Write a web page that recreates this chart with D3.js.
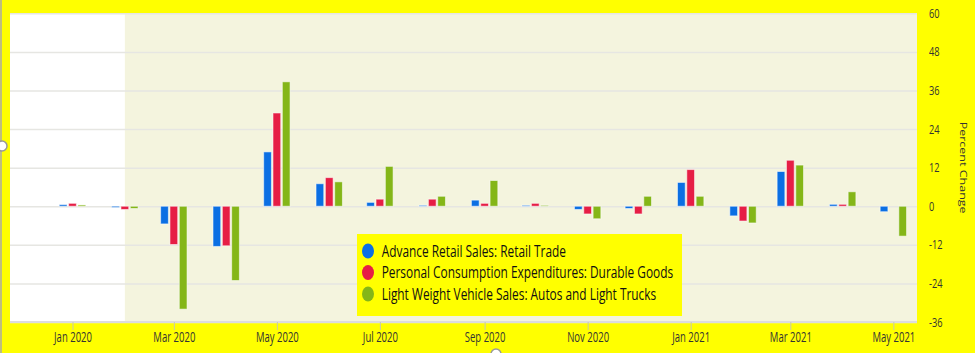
<!DOCTYPE html>
<html>
<head>
    <meta charset="utf-8">
    <title>Retail, PCE and Vehicle Sales</title>
    <script src="https://cdnjs.cloudflare.com/ajax/libs/d3/7.8.5/d3.min.js"></script>
    <style>
        body {
            margin: 0;
            background: #ffff00;
            font-family: "Open Sans", sans-serif;
        }
        .grid line {
            stroke: #e6e6e2;
            stroke-width: 1.5;
        }
        .grid path {
            display: none;
        }
        .axis-text {
            fill: #333;
            font-size: 14px;
        }
    </style>
</head>
<body>
    <div id="chart"></div>

    <script>
        // Monthly percent change
        const months = ["2020-01", "2020-02", "2020-03", "2020-04", "2020-05", "2020-06",
            "2020-07", "2020-08", "2020-09", "2020-10", "2020-11", "2020-12",
            "2021-01", "2021-02", "2021-03", "2021-04", "2021-05"];
        const retailTrade = [0.5, -0.4, -5.5, -12.5, 16.9, 7.0, 1.2, 0.3, 1.9, 0.3, -1.0, -0.7, 7.4, -3.0, 10.8, 0.6, -1.7];
        const durableGoods = [0.9, -1.0, -11.9, -12.3, 29.0, 8.9, 2.2, 2.2, 0.9, 0.9, -2.4, -2.4, 11.4, -4.6, 14.3, 0.6, null];
        const vehicleSales = [0.4, -0.7, -32.0, -23.1, 38.7, 7.6, 12.4, 3.1, 8.0, 0.3, -3.9, 3.1, 3.1, -5.2, 12.8, 4.5, -9.3];

        const seriesNames = [
            "Advance Retail Sales: Retail Trade",
            "Personal Consumption Expenditures: Durable Goods",
            "Light Weight Vehicle Sales: Autos and Light Trucks"
        ];
        const seriesColors = ["#0b6fe3", "#e61e45", "#84b618"];
        const seriesValues = [retailTrade, durableGoods, vehicleSales];

        const yTicks = [60, 48, 36, 24, 12, 0, -12, -24, -36];
        const xTickMonths = ["2020-01", "2020-03", "2020-05", "2020-07", "2020-09", "2020-11", "2021-01", "2021-03", "2021-05"];
        const shadeStart = "2020-02";

        const parseMonth = d3.utcParse("%Y-%m");
        const squeeze = 0.68; // the picture is squashed horizontally

        const width = 975, height = 353;
        const plot = { left: 10, right: 917, top: 13.3, bottom: 322 };

        const svg = d3.select("#chart").append("svg")
            .attr("width", width)
            .attr("height", height);

        const x = d3.scaleUtc()
            .domain([new Date(Date.UTC(2019, 10, 25)), new Date(Date.UTC(2021, 4, 15))])
            .range([plot.left, plot.right]);

        const y = d3.scaleLinear()
            .domain([-36, 60])
            .range([plot.bottom, plot.top]);

        const offset = d3.scaleBand()
            .domain(d3.range(seriesNames.length))
            .range([-13.2, 13.2])
            .paddingInner(0.17);

        // plot background: white, then shaded span
        svg.append("rect")
            .attr("x", plot.left).attr("y", plot.top)
            .attr("width", plot.right - plot.left).attr("height", plot.bottom - plot.top)
            .attr("fill", "#ffffff");
        svg.append("rect")
            .attr("x", x(parseMonth(shadeStart))).attr("y", plot.top)
            .attr("width", plot.right - x(parseMonth(shadeStart))).attr("height", plot.bottom - plot.top)
            .attr("fill", "#f4f4de");

        // horizontal grid
        svg.append("g")
            .attr("class", "grid")
            .attr("transform", `translate(${plot.left},0)`)
            .call(d3.axisRight(y).tickValues(yTicks).tickSize(plot.right - plot.left).tickFormat(""));

        // x axis baseline
        svg.append("line")
            .attr("x1", plot.left).attr("x2", plot.right)
            .attr("y1", plot.bottom).attr("y2", plot.bottom)
            .attr("stroke", "#dcdcdc").attr("stroke-width", 2);

        // bars
        const bars = [];
        seriesValues.forEach((vals, s) => {
            vals.forEach((v, i) => {
                if (v != null) bars.push({ s, date: parseMonth(months[i]), v });
            });
        });

        svg.append("g").selectAll("rect")
            .data(bars)
            .join("rect")
            .attr("x", d => x(d.date) + offset(d.s))
            .attr("width", offset.bandwidth())
            .attr("y", d => y(Math.max(0, d.v)))
            .attr("height", d => Math.abs(y(d.v) - y(0)))
            .attr("fill", d => seriesColors[d.s])
            .attr("stroke", "rgba(255,255,255,0.55)")
            .attr("stroke-width", 1);

        // bottom axis
        const xAxis = svg.append("g")
            .attr("transform", `translate(0,${plot.bottom})`)
            .call(d3.axisBottom(x)
                .tickValues(xTickMonths.map(parseMonth))
                .tickSize(8)
                .tickPadding(4)
                .tickFormat(d3.utcFormat("%b %Y")));
        xAxis.select(".domain").remove();
        xAxis.selectAll(".tick line").attr("stroke", "#c8c8b0");
        xAxis.selectAll(".tick text")
            .attr("class", "axis-text")
            .attr("y", 16)
            .attr("dy", "0.32em")
            .attr("transform", `scale(${squeeze},1)`)
            .style("font-family", "Open Sans")
            .style("font-size", "14px");

        // right axis labels
        const yAxis = svg.append("g")
            .attr("transform", `translate(929,0)`)
            .call(d3.axisRight(y).tickValues(yTicks).tickSize(0).tickPadding(0)
                .tickFormat(d => String(d)));
        yAxis.select(".domain").remove();
        yAxis.selectAll(".tick text")
            .attr("class", "axis-text")
            .attr("x", 0)
            .attr("transform", `scale(${squeeze + 0.06},1)`)
            .style("font-family", "Open Sans")
            .style("font-size", "12.5px");

        // axis title
        svg.append("text")
            .attr("class", "axis-text")
            .attr("transform", `translate(960,${(plot.top + plot.bottom) / 2}) rotate(90) scale(1,${squeeze + 0.06})`)
            .attr("text-anchor", "middle")
            .style("font-size", "12.5px")
            .text("Percent Change");

        // legend
        const legend = svg.append("g").attr("transform", "translate(357,234)");
        legend.append("rect")
            .attr("width", 325).attr("height", 82)
            .attr("fill", "#ffff00");
        const rows = legend.selectAll("g.row")
            .data(seriesNames)
            .join("g")
            .attr("class", "row")
            .attr("transform", (d, i) => `translate(0,${17 + i * 21.5})`);
        rows.append("ellipse")
            .attr("cx", 11).attr("rx", 6).attr("ry", 7.5)
            .attr("fill", (d, i) => seriesColors[i]);
        const legendSqueeze = 0.72;
        rows.append("text")
            .attr("x", 24.7 / legendSqueeze)
            .attr("transform", `scale(${legendSqueeze},1)`)
            .attr("dy", "0.35em")
            .attr("fill", "#111")
            .style("font-size", "16.5px")
            .text(d => d);

        // frame edge and resize handles
        svg.append("line")
            .attr("x1", 1).attr("x2", 1).attr("y1", 0).attr("y2", height)
            .attr("stroke", "#a8a8a8").attr("stroke-width", 1.5);
        svg.append("circle")
            .attr("cx", 2).attr("cy", 146).attr("r", 5)
            .attr("fill", "#fff").attr("stroke", "#999").attr("stroke-width", 1.5);
        svg.append("circle")
            .attr("cx", 496).attr("cy", 354).attr("r", 5)
            .attr("fill", "#fff").attr("stroke", "#999").attr("stroke-width", 1.5);
    </script>
</body>
</html>
